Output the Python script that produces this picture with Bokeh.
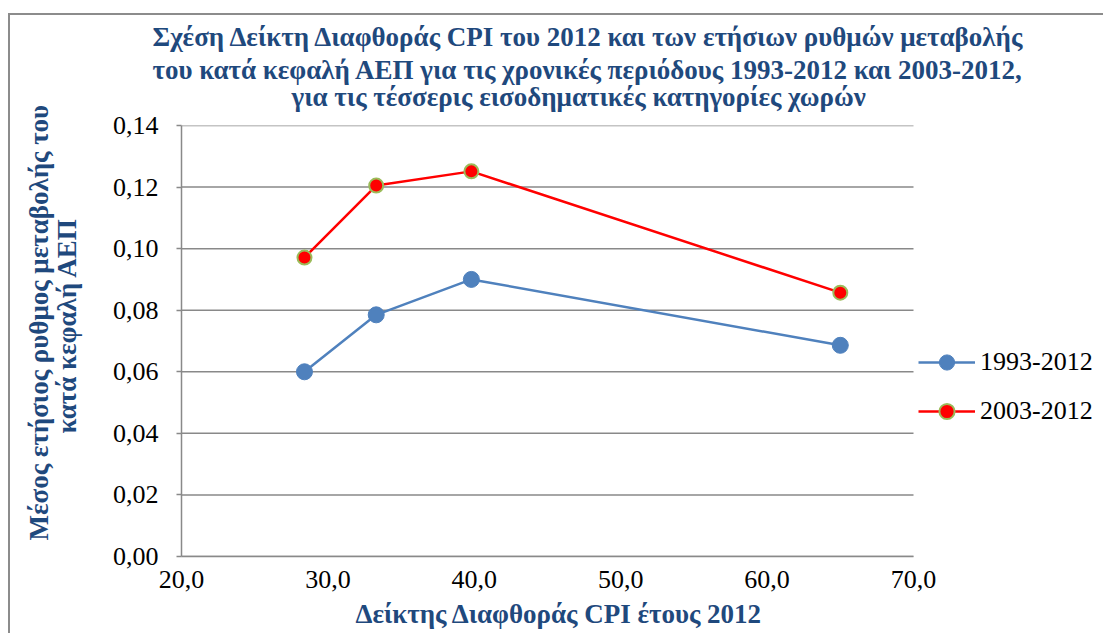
from bokeh.plotting import figure
from bokeh.embed import file_html
from bokeh.resources import INLINE
from bokeh.models import (Range1d, FixedTicker, CustomJSTickFormatter, Legend, LegendItem, Title)

# ---- data ----
cpi = [28.4, 33.3, 39.8, 65.0]
growth_1993_2012 = [0.0600, 0.0785, 0.0900, 0.0686]
growth_2003_2012 = [0.0971, 0.1205, 0.1251, 0.0857]
series_names = ["1993-2012", "2003-2012"]
x_ticks = [20, 30, 40, 50, 60, 70]
y_ticks = [0, 0.02, 0.04, 0.06, 0.08, 0.10, 0.12, 0.14]
title_lines = [
    "Σχέση Δείκτη Διαφθοράς CPI του 2012 και των ετήσιων ρυθμών μεταβολής",
    "του κατά κεφαλή ΑΕΠ για τις χρονικές περιόδους 1993-2012 και 2003-2012,",
    "για τις τέσσερις εισοδηματικές κατηγορίες χωρών",
]
x_label = "Δείκτης Διαφθοράς CPI έτους 2012"
y_label_lines = ["Μέσος ετήσιος ρυθμος μεταβολής του", "κατά κεφαλή ΑΕΠ"]

FONT = "Liberation Serif"
TITLE_COLOR = "#1F497D"
GRID = "#898989"

# ---- layout (pixels) ----
W, H = 1095, 620
LEFT, TOP, RIGHT = 171, 110, 5
FRAME_W = W - LEFT - RIGHT
FRAME_H = 431
AXIS_W = 732  # pixel width of the 20..70 axis
x0, x1 = x_ticks[0], x_ticks[-1]
x_end = x0 + (x1 - x0) * FRAME_W / AXIS_W

p = figure(width=W, height=H, output_backend="svg", toolbar_location=None,
           x_range=Range1d(x0, x_end), y_range=Range1d(y_ticks[0], y_ticks[-1]),
           min_border_left=LEFT, min_border_right=RIGHT, min_border_top=TOP,
           min_border_bottom=H - TOP - FRAME_H)
p.styles = {"border-top": "2px solid #8c8c8c", "border-left": "2px solid #8c8c8c",
            "margin-top": "13px", "margin-left": "8px"}

p.outline_line_color = None
p.background_fill_color = "white"
p.border_fill_color = "white"

def mk_title(text, offset, standoff, size="27px"):
    return Title(text=text, align="left", offset=offset, text_font=FONT, text_font_size=size,
                 text_font_style="bold", text_color=TITLE_COLOR, text_line_height=1.1,
                 standoff=standoff)

p.add_layout(mk_title(title_lines[2], 110, 27), "above")
p.add_layout(mk_title("\n".join(title_lines[:2]), -29, -36), "above")

# axes
p.xaxis.ticker = FixedTicker(ticks=x_ticks)
p.yaxis.ticker = FixedTicker(ticks=y_ticks)
p.xaxis.bounds = (x0, x1)
p.xaxis.formatter = CustomJSTickFormatter(code="return tick.toFixed(1).replace('.', ',');")
p.yaxis.formatter = CustomJSTickFormatter(code="return tick.toFixed(2).replace('.', ',');")
for ax in (p.xaxis, p.yaxis):
    ax.major_label_text_font = FONT
    ax.major_label_text_font_size = "26px"
    ax.major_label_text_color = "black"
    ax.axis_line_color = GRID
    ax.axis_line_width = 1.5
    ax.major_tick_line_color = GRID
    ax.major_tick_line_width = 1.5
    ax.minor_tick_line_color = None
    ax.major_tick_in = 0
p.xaxis.major_tick_out = 0
p.yaxis.major_tick_out = 5
p.xaxis.major_label_standoff = 14
p.yaxis.major_label_standoff = 18

# axis titles as side titles so they can be positioned like the reference
p.add_layout(mk_title(x_label, 355 - 181, 12), "below")
p.add_layout(mk_title(y_label_lines[1], 123, 56), "left")
p.add_layout(mk_title(y_label_lines[0], 16, -65), "left")

p.xgrid.grid_line_color = None
p.ygrid.grid_line_color = None
# horizontal gridlines limited to the 20..70 span
p.segment(x0=[x0] * len(y_ticks), x1=[x1] * len(y_ticks), y0=y_ticks, y1=y_ticks,
          line_color=GRID, line_width=1.5)

# series
l1 = p.line(cpi, growth_1993_2012, line_color="#4F81BD", line_width=2.5)
s1 = p.scatter(cpi, growth_1993_2012, size=16, fill_color="#4F81BD", line_color="#4F81BD", line_width=1)
l2 = p.line(cpi, growth_2003_2012, line_color="#FF0000", line_width=2.5)
s2 = p.scatter(cpi, growth_2003_2012, size=14, fill_color="#FF0000", line_color="#9BBB59", line_width=2)

legend = Legend(items=[LegendItem(label=series_names[0], renderers=[l1, s1]),
                       LegendItem(label=series_names[1], renderers=[l2, s2])],
                location=(918 - 181, 126), orientation="vertical")
legend.label_text_font = FONT
legend.label_text_font_size = "26px"
legend.label_text_color = "black"
legend.glyph_width = 57
legend.glyph_height = 38
legend.label_height = 38
legend.spacing = 11
legend.padding = 0
legend.margin = 0
legend.label_standoff = 5
legend.border_line_color = None
legend.background_fill_alpha = 0
p.add_layout(legend, "center")

open("out.html", "w").write(file_html(p, INLINE))
